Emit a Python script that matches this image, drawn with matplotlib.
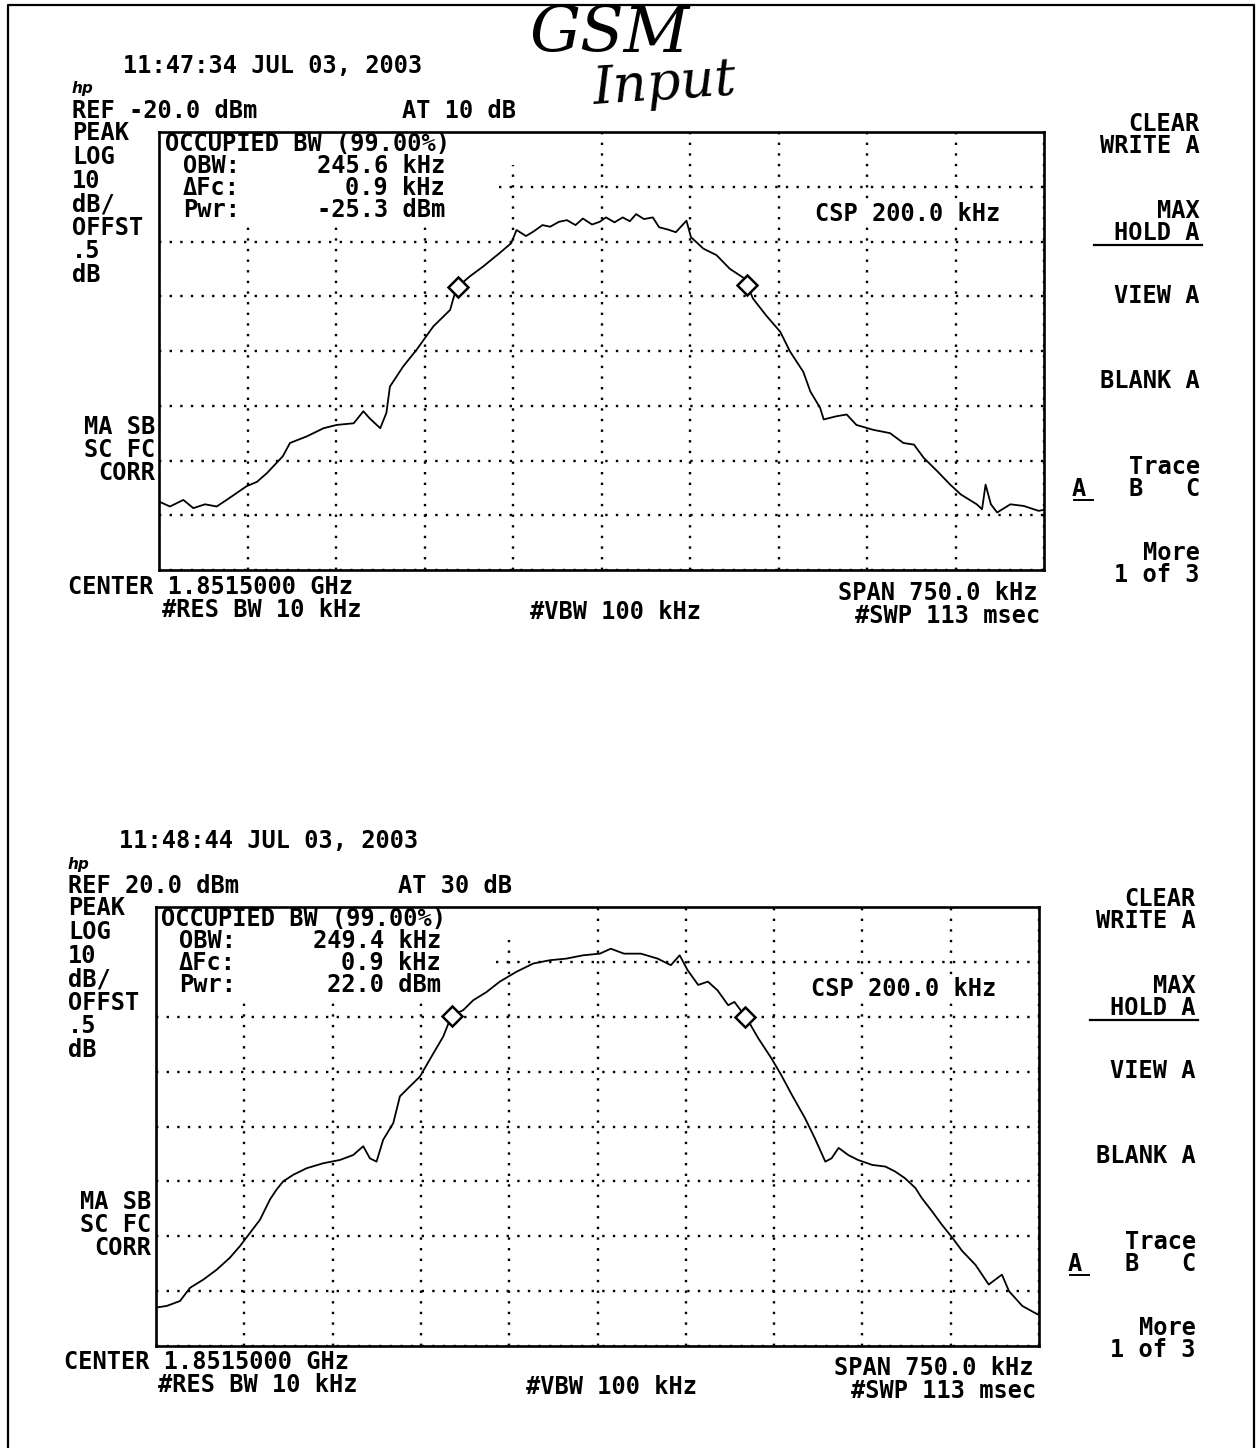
import matplotlib
matplotlib.use("Agg")
import matplotlib.pyplot as plt
from matplotlib.patches import Rectangle
import numpy as np

# trace A, first sweep (ref -20 dBm), offset from centre in kHz / level in dBm
top_freq = [-375, -365.7, -354.4, -345.9, -336, -326.1, -317.7, -300.8, -292, -283.5,
            -270, -264, -249.8, -235.5, -224.3, -210, -201.8, -196.5, -187.5, -182.3,
            -179.3, -168, -156.8, -142.5, -128.3, -123, -111.8, -100.5, -86.3, -76.5,
            -72, -64, -57.8, -50, -43.5, -36, -29.3, -22, -15.8, -8,
            -1.5, 3.8, 11, 18, 24, 29.3, 36, 43.5, 48.8, 56,
            63, 72, 75.8, 86.3, 97.5, 108.8, 121.5, 128.3, 139.5, 151.5,
            159.8, 171, 177, 185.3, 188.3, 199.5, 207.8, 216, 230.3, 244.5,
            255.8, 264.8, 273, 284.3, 295.5, 304.5, 318, 322.5, 325.5, 330,
            335.3, 346.5, 357.8, 370.5, 375]
top_level = [-87.5, -88.4, -87.2, -88.7, -88.0, -88.4, -87.2, -84.7, -83.9, -82.3,
             -79.2, -76.8, -75.6, -74.1, -73.5, -73.2, -71.0, -72.3, -74.1, -71.3,
             -66.5, -62.8, -59.8, -55.5, -52.5, -48.5, -46.4, -44.6, -42.1, -40.3,
             -37.9, -39.0, -38.2, -37.0, -37.3, -36.4, -36.1, -37.0, -35.8, -36.9,
             -36.4, -35.6, -36.5, -35.6, -36.3, -35.0, -35.9, -35.6, -37.4, -37.8,
             -38.3, -36.2, -39.2, -41.3, -42.5, -45.0, -46.8, -50.4, -53.5, -56.5,
             -60.1, -63.8, -67.4, -70.4, -72.5, -71.9, -71.6, -73.5, -74.4, -75.0,
             -76.8, -77.1, -79.5, -81.9, -84.4, -86.2, -88.0, -88.9, -84.4, -88.0,
             -89.5, -88.0, -88.3, -89.2, -89.0]

# trace A, second sweep (ref 20 dBm)
bot_freq = [-375, -365.9, -354.6, -346.1, -334.8, -323.5, -312.2, -303.7, -295.2, -286.7,
            -278.2, -272.6, -267, -258.4, -247, -233, -218.8, -207.5, -199, -193.3,
            -187.7, -182, -173.5, -167.8, -159.4, -150.8, -139.5, -131, -124, -114.1,
            -105.6, -94.3, -83, -68.8, -54.6, -40.5, -26.3, -12.2, 2, 11.3,
            22.5, 36.8, 51, 62.3, 69.8, 76.5, 85.5, 93.8, 102, 111,
            116.3, 126.8, 136.5, 147.8, 156, 165, 176.3, 184.5, 193.5, 198.8,
            204.8, 213, 221.3, 233.3, 244.5, 252.8, 261, 270, 275.3, 284.3,
            292.5, 301.5, 309.8, 321, 332.3, 343.5, 349.5, 360.8, 373.5, 375]
bot_level = [-53.0, -52.7, -51.8, -49.4, -47.9, -46.1, -43.9, -41.8, -39.4, -37.0,
             -33.3, -31.5, -30.0, -28.8, -27.6, -26.7, -26.1, -25.2, -23.6, -25.8,
             -26.4, -22.4, -19.4, -14.5, -12.7, -10.9, -6.7, -3.6, 0.2, 1.2,
             3.0, 4.5, 6.4, 8.2, 9.7, 10.3, 10.6, 11.2, 11.5, 12.4,
             11.5, 11.5, 10.6, 9.4, 11.2, 8.5, 5.8, 6.4, 4.8, 2.1,
             2.7, -0.3, -3.9, -7.6, -10.6, -14.2, -18.5, -22.1, -26.4, -25.8,
             -23.9, -25.2, -26.1, -27.0, -27.3, -28.2, -29.4, -31.2, -33.0, -35.5,
             -37.9, -40.3, -42.7, -45.2, -48.8, -47.0, -50.0, -52.7, -54.2, -54.3]

ref_levels = [-20.0, 20.0]
obw_khz = [245.6, 249.4]
dfc_khz = [0.9, 0.9]
pwr_dbm = ["-25.3", "22.0"]
atten = ["10", "30"]
stamps = ["11:47:34 JUL 03, 2003", "11:48:44 JUL 03, 2003"]
scale_labels = ["PEAK", "LOG", "10", "dB/", "OFFST", ".5", "dB"]
corr_labels = ["MA SB", "SC FC", "CORR"]

W, H = 1257, 1448
fig = plt.figure(figsize=(W / 100, H / 100), dpi=100)
fig.patch.set_facecolor("white")

mono = dict(family="DejaVu Sans Mono", fontsize=17, fontweight="bold", color="black")


def axes_box(left, top, right, bottom):
    return [left / W, 1 - bottom / H, (right - left) / W, (bottom - top) / H]


boxes = [axes_box(159, 132, 1044, 570), axes_box(156, 907, 1039, 1346)]
traces = [(top_freq, top_level), (bot_freq, bot_level)]

for i in range(2):
    ax = fig.add_axes(boxes[i])
    ref = ref_levels[i]
    ax.set_xlim(-375, 375)
    ax.set_ylim(ref - 80, ref)
    ax.set_xticks(np.arange(-375, 376, 75))
    ax.set_yticks(np.arange(ref - 80, ref + 1, 10))
    ax.grid(True, color="black", linestyle=(0, (1, 3.5)), linewidth=1.7)
    ax.tick_params(length=0, labelbottom=False, labelleft=False)
    for s in ax.spines.values():
        s.set_linewidth(1.9)
    # blank the graticule behind the OBW readout
    ax.add_patch(Rectangle((0, 0.925), 0.402, 0.075, transform=ax.transAxes,
                           facecolor="white", edgecolor="none", zorder=1.8))
    ax.add_patch(Rectangle((0, 0.783), 0.376, 0.145, transform=ax.transAxes,
                           facecolor="white", edgecolor="none", zorder=1.8))
    f, lv = traces[i]
    ax.plot(f, lv, color="black", linewidth=1.3, zorder=2.5)
    mk = np.array([-obw_khz[i] / 2 + dfc_khz[i], obw_khz[i] / 2 + dfc_khz[i]])
    ax.plot(mk, np.interp(mk, f, lv), linestyle="none", marker="D", markersize=10,
            markerfacecolor="white", markeredgecolor="black", markeredgewidth=1.8,
            zorder=3)

# page overlay in pixel coordinates for the printed annotations
ov = fig.add_axes([0, 0, 1, 1], zorder=10)
ov.set_xlim(0, W)
ov.set_ylim(H, 0)
ov.axis("off")
ov.patch.set_alpha(0)

ov.plot([8, 8, 1254, 1254], [H, 5, 5, H], color="black", linewidth=1.6)


def put(dx, dy, x, y, s, ha="left", va="center", **kw):
    opts = dict(mono)
    opts.update(kw)
    ov.text(x + dx, y + dy, s, ha=ha, va=va, **opts)


offsets = [(0, 0), (-4, 775)]
for i, (dx, dy) in enumerate(offsets):
    put(dx, dy, 273, 66, stamps[i], ha="center")
    ov.text(72 + dx, 89 + dy, "hp", ha="left", va="center", family="DejaVu Sans",
            fontsize=11, fontweight="bold", fontstyle="italic")
    ref_txt = "REF %.1f dBm" % ref_levels[i]
    put(dx, dy, 72, 111, ref_txt)
    put(dx, dy, 459, 111, "AT " + atten[i] + " dB", ha="center")
    # left status column, one block each at the printer's line pitch
    # (baseline alignment pins the last line)
    put(dx, dy, 72, 282, "\n".join(scale_labels), va="baseline", linespacing=0.98)
    put(dx, dy, 155, 480, "\n".join(corr_labels), ha="right", va="baseline",
        linespacing=0.95, multialignment="right")

    put(dx, dy, 165, 144, "OCCUPIED BW (99.00%)")
    put(dx, dy, 183, 166, "OBW:")
    put(dx, dy, 445, 166, "%.1f kHz" % obw_khz[i], ha="right")
    put(dx, dy, 183, 188, "\u0394Fc:")
    put(dx, dy, 445, 188, "%.1f kHz" % dfc_khz[i], ha="right")
    put(dx, dy, 183, 210, "Pwr:")
    put(dx, dy, 445, 210, pwr_dbm[i] + " dBm", ha="right")
    put(dx, dy, 908, 214, "CSP 200.0 kHz", ha="center",
        bbox=dict(facecolor="white", edgecolor="none", pad=1))

    put(dx, dy, 68, 587, "CENTER 1.8515000 GHz")
    put(dx, dy, 262, 610, "#RES BW 10 kHz", ha="center")
    put(dx, dy, 615, 612, "#VBW 100 kHz", ha="center")
    put(dx, dy, 1038, 593, "SPAN 750.0 kHz", ha="right")
    put(dx, dy, 1040, 616, "#SWP 113 msec", ha="right")

    # softkey menu
    for lab, yy in zip(["CLEAR", "WRITE A", "MAX", "HOLD A", "VIEW A", "BLANK A",
                        "Trace", "A   B   C", "More", "1 of 3"],
                       [124, 146, 211, 233, 296, 381, 467, 489, 553, 575]):
        put(dx, dy, 1200, yy, lab, ha="right")
    ov.plot([1094 + dx, 1202 + dx], [245 + dy, 245 + dy], color="black", linewidth=1.6)
    ov.plot([1074 + dx, 1093 + dx], [500 + dy, 500 + dy], color="black", linewidth=1.4)

# handwritten note
ov.text(610, 52, "GSM", ha="center", va="baseline", family="DejaVu Serif",
        fontstyle="italic", fontsize=46, color="black")
ov.text(665, 104, "Input", ha="center", va="baseline", family="DejaVu Serif",
        fontstyle="italic", fontsize=38, color="black", rotation=4)

fig.savefig("out.png", dpi=100, facecolor="white")
